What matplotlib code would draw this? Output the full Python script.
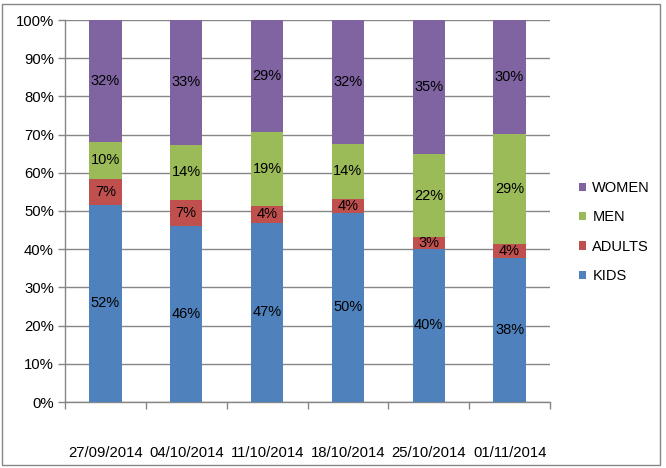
import matplotlib
matplotlib.use("Agg")
import matplotlib.pyplot as plt
import numpy as np
from matplotlib.patches import Rectangle
from matplotlib.ticker import FixedLocator, PercentFormatter

dates = ["27/09/2014", "04/10/2014", "11/10/2014", "18/10/2014", "25/10/2014", "01/11/2014"]
kids = [51.6, 46.2, 46.9, 49.6, 40.1, 37.6]
adults = [6.8, 6.7, 4.4, 3.6, 3.1, 3.7]
men = [9.7, 14.4, 19.3, 14.4, 21.6, 28.8]
women = [31.9, 32.7, 29.4, 32.4, 35.2, 29.9]

series = [("KIDS", kids, "#4F81BD"), ("ADULTS", adults, "#C0504D"),
          ("MEN", men, "#9BBB59"), ("WOMEN", women, "#8064A2")]

plt.rcParams['font.family'] = ['Liberation Sans', 'DejaVu Sans']
fig = plt.figure(figsize=(6.66, 4.68), dpi=100)
ax = fig.add_axes([65/666, 66/468, 485/666, 382/468])

x = np.arange(len(dates))
bottom = np.zeros(len(dates))
handles = []
for name, vals, col in series:
    v = np.array(vals, dtype=float)
    b = ax.bar(x, v, 0.4, bottom=bottom, color=col, label=name, zorder=3)
    handles.append(b)
    for xi, bi, vi in zip(x, bottom, v):
        ax.text(xi, bi + vi / 2, f"{round(vi):d}%", ha="center", va="center",
                fontsize=10.5, color="black", zorder=4)
    bottom += v

ax.set_xlim(-0.5, len(dates) - 0.5)
ax.set_ylim(0, 100)
ax.set_yticks(np.arange(0, 101, 10))
ax.yaxis.set_major_formatter(PercentFormatter(decimals=0))
ax.grid(axis="y", color="#868686", linewidth=1, zorder=0)
ax.set_axisbelow(True)

ax.set_xticks(x)
ax.set_xticklabels(dates)
ax.xaxis.set_minor_locator(FixedLocator(np.arange(-0.5, len(dates), 1.0)))
ax.tick_params(axis="x", which="major", length=0, pad=32, labelsize=10.7)
ax.tick_params(axis="x", which="minor", length=5, color="#868686", width=1)
ax.tick_params(axis="y", which="major", length=5, color="#868686", width=1,
               labelsize=10.7, pad=3)

for s in ["top", "right"]:
    ax.spines[s].set_visible(False)
for s in ["left", "bottom"]:
    ax.spines[s].set_color("#868686")
    ax.spines[s].set_linewidth(1)

leg = fig.legend(handles[::-1], [s[0] for s in series][::-1],
                 loc="center left", bbox_to_anchor=(566/666, 1 - 232/468),
                 frameon=False, fontsize=10.5, handlelength=0.5, handleheight=0.5,
                 handletextpad=0.4, labelspacing=1.05)

fig.patches.append(Rectangle((2/666, 3/468), 658/666, 461/468, transform=fig.transFigure,
                             fill=False, edgecolor="#868686", linewidth=1))

fig.savefig("out.png", dpi=100)
